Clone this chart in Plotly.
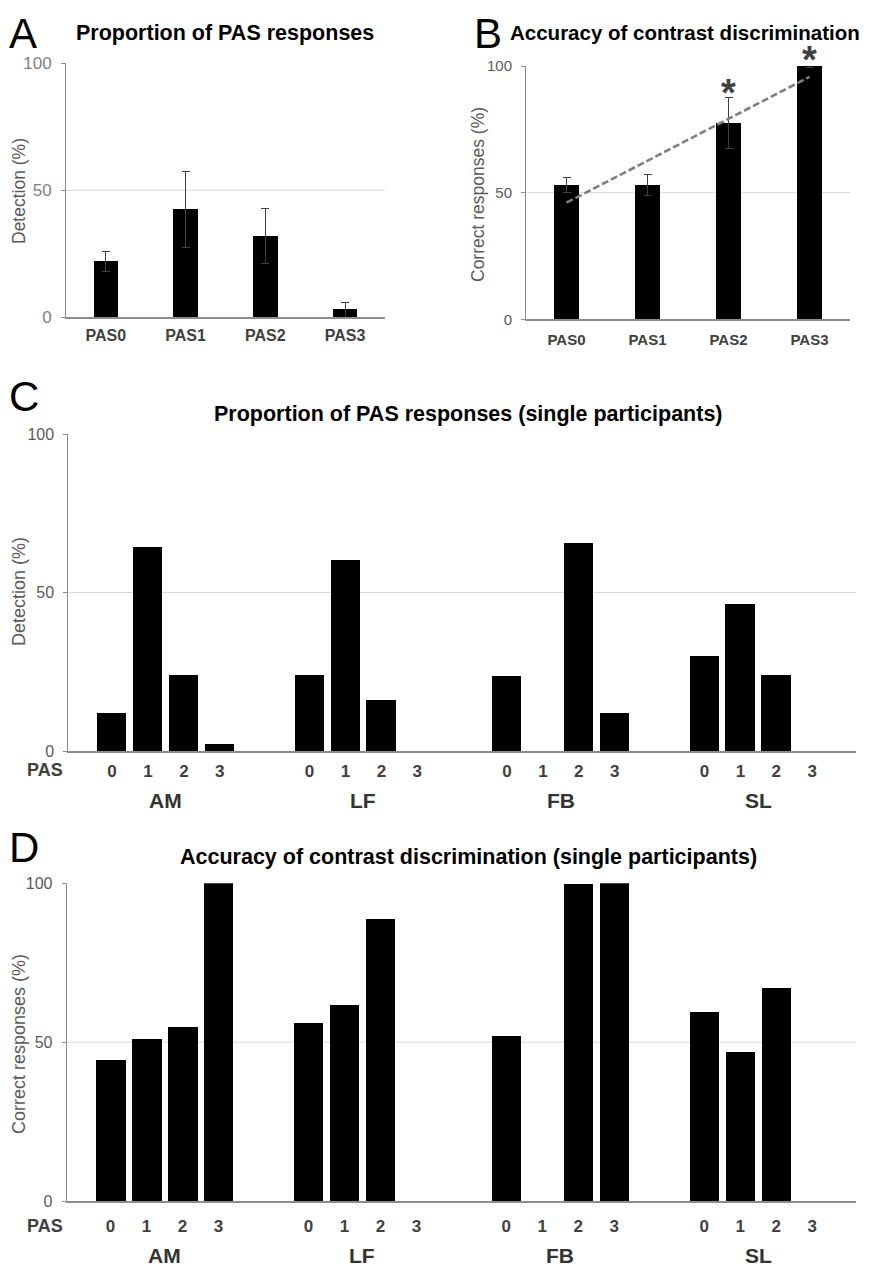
import numpy as np
import plotly.graph_objects as go

W, H = 873, 1267
PAGE_OFFSET = 8  # default body margin of the written page
FONT = "Liberation Sans, Arial, sans-serif"

# ---------------- data ----------------
pas_labels = ["PAS0", "PAS1", "PAS2", "PAS3"]
detection_mean = [22, 42.5, 32, 3]
detection_err = [4, 15, 11, 3]
accuracy_mean = [53, 53, 77.5, 100]
accuracy_err = [3, 4, 10, 0.5]
accuracy_signif = [False, False, True, True]

participants = ["AM", "LF", "FB", "SL"]
pas_levels = ["0", "1", "2", "3"]

det_am = [12, 64.2, 24.1, 2.3]
det_lf = [24.1, 60.4, 16.1, 0]
det_fb = [23.6, 0, 65.5, 11.9]
det_sl = [30.1, 46.5, 24.1, 0]

acc_am = [44.3, 50.9, 54.7, 100]
acc_lf = [56.0, 61.5, 88.8, 0]
acc_fb = [52.0, 0, 99.7, 100]
acc_sl = [59.4, 46.7, 66.8, 0]

y_ticks = [0, 50, 100]
Y_RANGE = [0, 100]


def fx(px):
    return (px - PAGE_OFFSET) / W


def fy(py):
    return 1 - (py - PAGE_OFFSET) / H


fig = go.Figure()

# ---------------- Panel A ----------------
fig.add_trace(go.Bar(
    x=pas_labels, y=detection_mean, width=0.305,
    marker=dict(color="black", line=dict(width=0)),
    error_y=dict(type="data", array=detection_err, color="#404040", thickness=1, width=4),
    xaxis="x", yaxis="y", hoverinfo="skip"))

# ---------------- Panel B ----------------
fig.add_trace(go.Bar(
    x=pas_labels, y=accuracy_mean, width=0.32,
    marker=dict(color="black", line=dict(width=0)),
    error_y=dict(type="data", array=accuracy_err, color="#404040", thickness=1, width=4),
    xaxis="x2", yaxis="y2", hoverinfo="skip"))

xi = np.arange(len(accuracy_mean))
slope, intercept = np.polyfit(xi, accuracy_mean, 1)
fig.add_trace(go.Scatter(
    x=[pas_labels[0], pas_labels[-1]],
    y=[intercept, intercept + slope * xi[-1]],
    mode="lines", line=dict(color="#7f7f7f", width=2.6, dash="7px,3px"),
    xaxis="x2", yaxis="y2", hoverinfo="skip"))

# ---------------- Panels C & D ----------------
GROUP_STEP = 5.5
det_single = [det_am, det_lf, det_fb, det_sl]
acc_single = [acc_am, acc_lf, acc_fb, acc_sl]
positions, tick_text = [], []
for g, _ in enumerate(participants):
    for p, lvl in enumerate(pas_levels):
        positions.append(g * GROUP_STEP + p)
        tick_text.append(lvl)

det_flat = [v for grp in det_single for v in grp]
acc_flat = [v for grp in acc_single for v in grp]

fig.add_trace(go.Bar(x=positions, y=det_flat, width=0.816,
                     marker=dict(color="black", line=dict(width=0)),
                     xaxis="x3", yaxis="y3", hoverinfo="skip"))
fig.add_trace(go.Bar(x=positions, y=acc_flat, width=0.816,
                     marker=dict(color="black", line=dict(width=0)),
                     xaxis="x4", yaxis="y4", hoverinfo="skip"))

# ---------------- axes ----------------
axis_grey = "#8c8c8c"


def yax(domain, anchor, size, color, standoff):
    return dict(domain=domain, anchor=anchor, range=Y_RANGE, tickvals=y_ticks,
                showline=True, linecolor=axis_grey, linewidth=1,
                ticks="outside", ticklen=4, tickcolor=axis_grey, tickwidth=1,
                showgrid=False, zeroline=False, fixedrange=True, automargin=False,
                tickfont=dict(family=FONT, size=size, color=color),
                ticklabelstandoff=standoff)


def xax(domain, anchor, **kw):
    d = dict(domain=domain, anchor=anchor, showline=True, linecolor=axis_grey,
             linewidth=1.5, ticks="", showgrid=False, zeroline=False, fixedrange=True,
             automargin=False)
    d.update(kw)
    return d


c_range = [-1.22, (len(participants) - 1) * GROUP_STEP + 3 + 1.22]

fig.update_layout(
    template="none",
    width=W, height=H, margin=dict(l=0, r=0, t=0, b=0, autoexpand=False),
    paper_bgcolor="white", plot_bgcolor="white", showlegend=False,
    font=dict(family=FONT),
    bargap=0,
    xaxis=xax([fx(66), fx(385)], "y", type="category", range=[-0.5, 3.5],
              tickfont=dict(family=FONT, size=16, color="#404040", weight="bold"),
              ticklabelstandoff=3),
    yaxis=yax([fy(317.3), fy(63.3)], "x", 17, "#7f7f7f", 6),
    xaxis2=xax([fx(526), fx(850)], "y2", type="category", range=[-0.5, 3.5],
               tickfont=dict(family=FONT, size=15, color="#404040", weight="bold"),
               ticklabelstandoff=6),
    yaxis2=yax([fy(319.3), fy(66)], "x2", 15, "#595959", 6),
    xaxis3=xax([fx(68.3), fx(856)], "y3", range=c_range, tickvals=positions,
               ticktext=tick_text,
               tickfont=dict(family=FONT, size=17, color="#404040", weight="bold"),
               ticklabelstandoff=4),
    yaxis3=yax([fy(751), fy(434)], "x3", 16, "#595959", 6),
    xaxis4=xax([fx(66.7), fx(856)], "y4", range=c_range, tickvals=positions,
               ticktext=tick_text,
               tickfont=dict(family=FONT, size=17, color="#404040", weight="bold"),
               ticklabelstandoff=9),
    yaxis4=yax([fy(1201), fy(883.3)], "x4", 16, "#595959", 6),
)

# gridline at 50 in each panel
for xr, yr in [("x", "y"), ("x2", "y2"), ("x3", "y3"), ("x4", "y4")]:
    fig.add_shape(type="line", xref=f"{xr} domain", yref=yr, x0=0, x1=1, y0=50, y1=50,
                  line=dict(color="#d9d9d9", width=1), layer="below")

ann = []

# panel letters
for letter, x in [("A", 7), ("B", 472)]:
    ann.append(dict(text=letter, xref="paper", yref="paper", x=fx(x), y=1,
                    xanchor="left", yanchor="top", showarrow=False,
                    font=dict(family=FONT, size=42, color="black")))
for letter, x, y in [("C", 7, 396), ("D", 7, 847)]:
    ann.append(dict(text=letter, xref="paper", yref="paper", x=fx(x), y=fy(y),
                    xanchor="left", yanchor="middle", showarrow=False,
                    font=dict(family=FONT, size=42, color="black")))

# titles
ann.append(dict(text="Proportion of PAS responses", xref="paper", yref="paper",
                x=fx(225), y=fy(33), xanchor="center", yanchor="middle", showarrow=False,
                font=dict(family=FONT, size=21.5, color="black", weight="bold")))
ann.append(dict(text="Accuracy of contrast discrimination", xref="paper", yref="paper",
                x=fx(508), y=fy(33), xanchor="left", yanchor="middle", showarrow=False,
                font=dict(family=FONT, size=20.5, color="black", weight="bold")))
ann.append(dict(text="Proportion of PAS responses (single participants)", xref="paper",
                yref="paper", x=fx(468), y=fy(414), xanchor="center", yanchor="middle",
                showarrow=False, font=dict(family=FONT, size=21.5, color="black", weight="bold")))
ann.append(dict(text="Accuracy of contrast discrimination (single participants)", xref="paper",
                yref="paper", x=fx(468), y=fy(857), xanchor="center", yanchor="middle",
                showarrow=False, font=dict(family=FONT, size=21.5, color="black", weight="bold")))

# y axis titles
for text, x, y, size in [("Detection (%)", 19, 191, 17.5), ("Correct responses (%)", 478, 195, 17.5),
                         ("Detection (%)", 19, 592, 18), ("Correct responses (%)", 19, 1044, 18)]:
    ann.append(dict(text=text, xref="paper", yref="paper", x=fx(x), y=fy(y),
                    xanchor="center", yanchor="middle", textangle=-90, showarrow=False,
                    font=dict(family=FONT, size=size, color="#595959")))

# significance asterisks (domain reference so they may sit above the axis top)
for lbl, m, e, s in zip(pas_labels, accuracy_mean, accuracy_err, accuracy_signif):
    if s:
        ann.append(dict(text="*", xref="x2", yref="y2 domain",
                        x=lbl, y=(m + e - Y_RANGE[0]) / (Y_RANGE[1] - Y_RANGE[0]),
                        xanchor="center", yanchor="bottom", yshift=-18, showarrow=False,
                        font=dict(family=FONT, size=38, color="#404040", weight="bold")))

# PAS row label and participant labels for C and D
for xr, pas_y, grp_y in [("x3", 769.5, 800), ("x4", 1226, 1255)]:
    ann.append(dict(text="PAS", xref="paper", yref="paper", x=fx(44.5), y=fy(pas_y),
                    xanchor="center", yanchor="middle", showarrow=False,
                    font=dict(family=FONT, size=18, color="#404040", weight="bold")))
    for g, name in enumerate(participants):
        ann.append(dict(text=name, xref=xr, yref="paper", x=g * GROUP_STEP + 1.5, y=fy(grp_y),
                        xanchor="center", yanchor="middle", showarrow=False,
                        font=dict(family=FONT, size=21, color="#333333", weight="bold")))

fig.update_layout(annotations=ann)
fig.write_html("out.html")
